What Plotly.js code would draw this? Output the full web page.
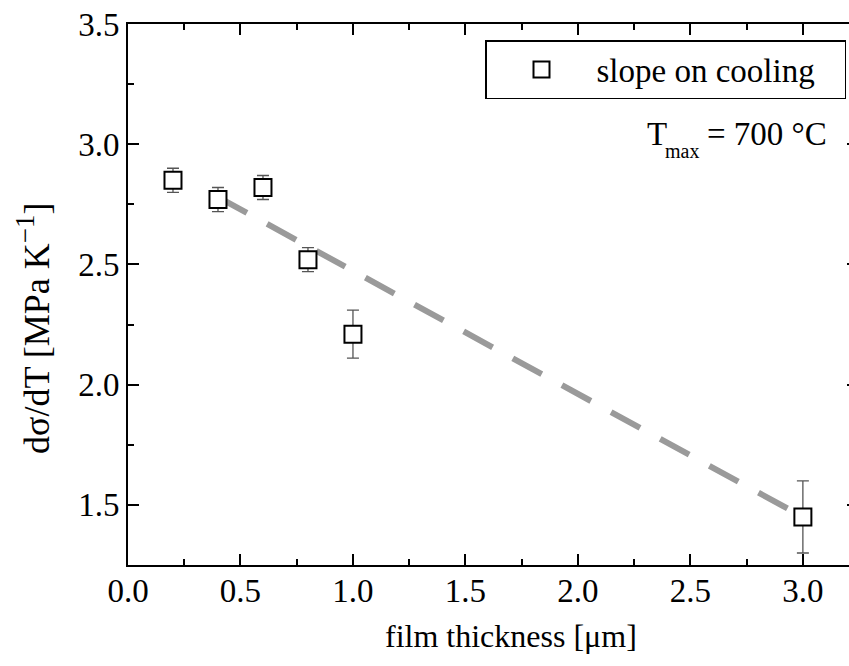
<!DOCTYPE html>
<html>
<head>
<meta charset="utf-8">
<script src="https://cdn.plot.ly/plotly-3.0.1.min.js"></script>
<style>
html,body{margin:0;padding:0;overflow:hidden;background:#fff;}
#chart{width:870px;height:666px;}
</style>
</head>
<body>
<div id="chart"></div>
<script>
// Data
var thickness = [0.2, 0.4, 0.6, 0.8, 1.0, 3.0];
var slope = [2.85, 2.77, 2.82, 2.52, 2.21, 1.45];
var slopeErr = [0.05, 0.05, 0.05, 0.05, 0.10, 0.15];
var fitX = [0.4, 3.0];
var fitY = [2.78, 1.45];

var W = 870, H = 666;
var ml = 128, mr = 12, mt = 24, mb = 101;
var pw = W - ml - mr, ph = H - mt - mb;
function px2x(p){ return (p - ml) / pw; }
function py2y(p){ return (H - mb - p) / ph; }

var FONT = 'Liberation Serif';

var traces = [
  {
    x: fitX, y: fitY, mode: 'lines', type: 'scatter', showlegend: false,
    line: {color: '#9a9a9a', width: 6, dash: '33px,23px'},
    hoverinfo: 'skip'
  },
  {
    x: thickness, y: slope, mode: 'markers', type: 'scatter',
    name: 'slope on cooling\u00a0\u00a0\u00a0',
    marker: {symbol: 'square', size: 17, color: '#ffffff', line: {color: '#000000', width: 2}},
    error_y: {type: 'data', array: slopeErr, visible: true, color: '#555555', thickness: 1.3, width: 6}
  }
];

function axisCommon(extra){
  var a = {
    showgrid: false, zeroline: false, showline: true, linecolor: '#000', linewidth: 2,
    mirror: 'ticks', ticks: 'inside', ticklen: 11, tickwidth: 2, tickcolor: '#000',
    tickfont: {family: FONT, size: 33, color: '#000'},
    minor: {ticks: 'inside', ticklen: 6, tickwidth: 2, tickcolor: '#000', dtick: 0.25}
  };
  for (var k in extra) a[k] = extra[k];
  return a;
}

var layout = {
  width: W, height: H,
  margin: {l: ml, r: mr, t: mt, b: mb},
  paper_bgcolor: '#fff', plot_bgcolor: '#fff',
  font: {family: FONT, size: 33, color: '#000'},
  xaxis: axisCommon({range: [0, 3.245], dtick: 0.5, tick0: 0, tickformat: '.1f', ticklabelstandoff: -5}),
  yaxis: axisCommon({range: [1.25, 3.5], dtick: 0.5, tick0: 0, tickformat: '.1f'}),
  showlegend: true,
  legend: {
    x: px2x(846), xanchor: 'right', y: py2y(40), yanchor: 'top',
    bordercolor: '#000', borderwidth: 1.5, bgcolor: '#fff',
    font: {family: FONT, size: 33, color: '#000'},
    itemwidth: 100
  },
  annotations: [
    {
      xref: 'paper', yref: 'paper', x: px2x(511), y: py2y(636), xanchor: 'center', yanchor: 'middle',
      text: 'film thickness [\u03bcm]', showarrow: false, font: {family: FONT, size: 32, color: '#000'}
    },
    {
      xref: 'paper', yref: 'paper', x: px2x(33), y: py2y(329), xanchor: 'center', yanchor: 'middle',
      textangle: -90, text: 'd\u03c3/dT [MPa K<sup><span style="font-size:27px">\u22121</span></sup>]', showarrow: false,
      font: {family: FONT, size: 36, color: '#000'}
    },
    {
      xref: 'paper', yref: 'paper', x: px2x(645), y: py2y(134), xanchor: 'left', yanchor: 'middle',
      text: 'T', showarrow: false, font: {family: FONT, size: 33, color: '#000'}
    },
    {
      xref: 'paper', yref: 'paper', x: px2x(663), y: py2y(151), xanchor: 'left', yanchor: 'middle',
      text: 'max', showarrow: false, font: {family: FONT, size: 20, color: '#000'}
    },
    {
      xref: 'paper', yref: 'paper', x: px2x(705), y: py2y(134), xanchor: 'left', yanchor: 'middle',
      text: '= 700 \u00b0C', showarrow: false, font: {family: FONT, size: 33, color: '#000'}
    }
  ]
};

Plotly.newPlot('chart', traces, layout, {staticPlot: true, displayModeBar: false});
</script>
</body>
</html>
